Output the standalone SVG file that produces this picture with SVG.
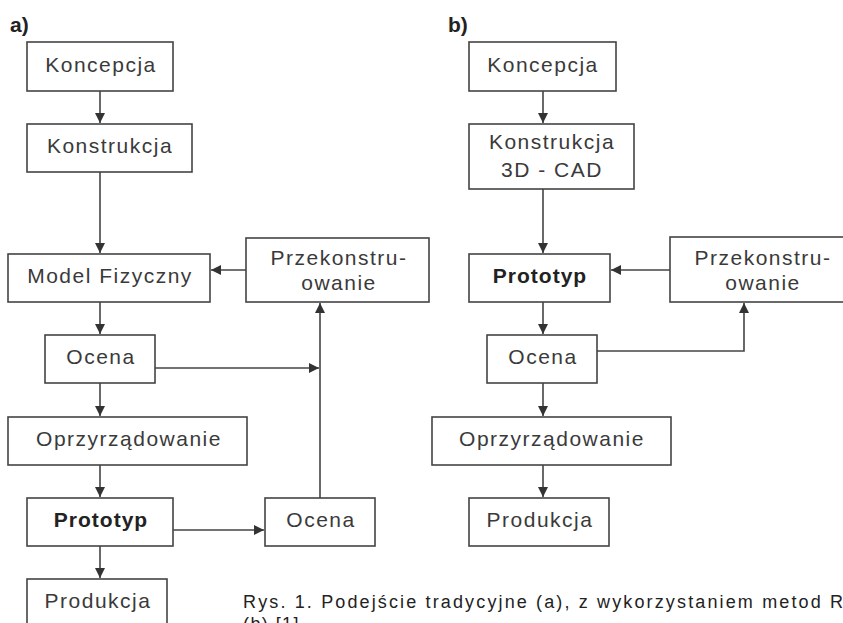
<svg xmlns="http://www.w3.org/2000/svg" width="843" height="623" viewBox="0 0 843 623">
<style>
.box{fill:#fff;stroke:#444;stroke-width:1.6}
.t{font-family:"Liberation Sans",Arial,sans-serif;font-size:21px;letter-spacing:1.5px;fill:#3a3a3a;text-anchor:middle}
.b{font-weight:bold;fill:#222;letter-spacing:1px}
.lbl{font-family:"Liberation Sans",Arial,sans-serif;font-size:21px;font-weight:bold;fill:#222}
.cap{font-family:"Liberation Sans",Arial,sans-serif;font-size:18px;fill:#222}
.c{fill:none;stroke:#444;stroke-width:1.6}
</style>
<defs>
<marker id="ah" markerWidth="10" markerHeight="10" refX="10" refY="5" orient="auto" markerUnits="userSpaceOnUse"><path d="M0,0 L10,5 L0,10 z" fill="#333"/></marker>
</defs>
<rect width="843" height="623" fill="#fff"/>
<text class="lbl" x="10" y="32">a)</text>
<text class="lbl" x="448" y="32">b)</text>
<g id="connectors">
<path class="c" d="M100,91 V123" marker-end="url(#ah)"/>
<path class="c" d="M100,172 V253" marker-end="url(#ah)"/>
<path class="c" d="M246,270 H211" marker-end="url(#ah)"/>
<path class="c" d="M100,302 V334" marker-end="url(#ah)"/>
<path class="c" d="M155,368 H319" marker-end="url(#ah)"/>
<path class="c" d="M100,383 V416" marker-end="url(#ah)"/>
<path class="c" d="M100,465 V497" marker-end="url(#ah)"/>
<path class="c" d="M173,530 H264" marker-end="url(#ah)"/>
<path class="c" d="M320,498 V303" marker-end="url(#ah)"/>
<path class="c" d="M100,546 V578" marker-end="url(#ah)"/>
<path class="c" d="M543,91 V123" marker-end="url(#ah)"/>
<path class="c" d="M543,189 V253" marker-end="url(#ah)"/>
<path class="c" d="M670,270 H611" marker-end="url(#ah)"/>
<path class="c" d="M543,302 V334" marker-end="url(#ah)"/>
<path class="c" d="M597,351 H744 V303" marker-end="url(#ah)"/>
<path class="c" d="M543,383 V416" marker-end="url(#ah)"/>
<path class="c" d="M543,465 V497" marker-end="url(#ah)"/>
</g>
<g id="a-koncepcja"><rect class="box" x="27" y="42" width="146" height="49"/><text class="t" x="101" y="72">Koncepcja</text></g>
<g id="a-konstrukcja"><rect class="box" x="27" y="124" width="165" height="48"/><text class="t" x="110" y="153">Konstrukcja</text></g>
<g id="a-model"><rect class="box" x="8" y="254" width="202" height="48"/><text class="t" x="110" y="283">Model Fizyczny</text></g>
<g id="a-przekonstruowanie"><rect class="box" x="246" y="238" width="183" height="64"/><text class="t" x="339" y="265">Przekonstru-</text><text class="t" x="339" y="290">owanie</text></g>
<g id="a-ocena"><rect class="box" x="45" y="335" width="110" height="48"/><text class="t" x="101" y="364">Ocena</text></g>
<g id="a-oprzyrzadowanie"><rect class="box" x="8" y="417" width="239" height="48"/><text class="t" x="129" y="446">Oprzyrządowanie</text></g>
<g id="a-prototyp"><rect class="box" x="27" y="498" width="146" height="48"/><text class="t b" x="101" y="527">Prototyp</text></g>
<g id="a-ocena2"><rect class="box" x="265" y="498" width="110" height="48"/><text class="t" x="321" y="527">Ocena</text></g>
<g id="a-produkcja"><rect class="box" x="27" y="579" width="140" height="50"/><text class="t" x="98" y="608">Produkcja</text></g>
<g id="b-koncepcja"><rect class="box" x="469" y="42" width="147" height="49"/><text class="t" x="543" y="72">Koncepcja</text></g>
<g id="b-konstrukcja"><rect class="box" x="469" y="124" width="165" height="65"/><text class="t" x="552" y="149">Konstrukcja</text><text class="t" x="552" y="177">3D - CAD</text></g>
<g id="b-prototyp"><rect class="box" x="469" y="254" width="141" height="48"/><text class="t b" x="540" y="283">Prototyp</text></g>
<g id="b-przekonstruowanie"><rect class="box" x="670" y="237" width="185" height="65"/><text class="t" x="763" y="265">Przekonstru-</text><text class="t" x="763" y="290">owanie</text></g>
<g id="b-ocena"><rect class="box" x="487" y="335" width="110" height="48"/><text class="t" x="543" y="364">Ocena</text></g>
<g id="b-oprzyrzadowanie"><rect class="box" x="432" y="417" width="239" height="48"/><text class="t" x="552" y="446">Oprzyrządowanie</text></g>
<g id="b-produkcja"><rect class="box" x="469" y="498" width="140" height="48"/><text class="t" x="540" y="527">Produkcja</text></g>
<text class="cap" x="243" y="608" textLength="600" lengthAdjust="spacing">Rys. 1. Podejście tradycyjne (a), z wykorzystaniem metod R</text>
<text class="cap" x="243" y="630" textLength="62" lengthAdjust="spacing">(b) [1].</text>
</svg>
